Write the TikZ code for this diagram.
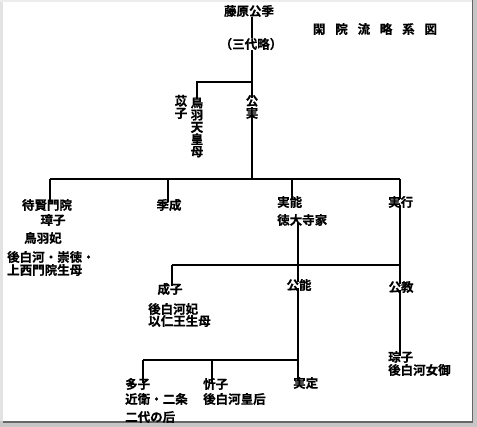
\documentclass[tikz,border=0pt]{standalone}
\usepackage{fontspec}
\setmainfont{Noto Sans CJK JP Bold}[FakeBold=0.5]
\begin{document}
\begin{tikzpicture}[x=1pt,y=-1pt,
  txt/.style={inner sep=0pt,font=\fontsize{12.5}{12.5}\selectfont},
  lt/.style={txt,anchor=west},
  vtxt/.style={txt,align=center,font=\fontsize{12.5}{12.2}\selectfont},
  ln/.style={line width=1.1pt,black}]
\useasboundingbox (0,0) rectangle (477,427);
% frame
\fill[white] (0,0) rectangle (477,427);
\fill[gray!22] (0,0) rectangle (3,427);
\fill[gray!15] (0,0) rectangle (477,2);
\fill[gray!45] (472,0) rectangle (477,427);
\fill[gray!45] (0,421) rectangle (477,427);
\fill[black!60] (471.5,0) rectangle (473,423);
\fill[black!60] (3,421.5) rectangle (473,423);
% title
\node[txt] (title) at (375,29) {閑\hspace{9.8pt}院\hspace{9.8pt}流\hspace{9.8pt}略\hspace{9.8pt}系\hspace{9.8pt}図};
% generation 0
\coordinate (trunk) at (252,0);
\node[txt] (kisue) at (249,11) {藤原公季};
\node[txt] (sandai) at (251,44) {（三代略）};
\draw[ln] (kisue.south -| trunk) -- (sandai.north -| trunk);
\coordinate (j1) at (252,82);
\draw[ln] (sandai.south -| trunk) -- (j1);
% generation 1
\node[vtxt] (ishi) at (181,107) {苡\\子};
\node[vtxt] (tobamo) at (197,127) {鳥\\羽\\天\\皇\\母};
\node[vtxt] (kinzane) at (252,107) {公\\実};
\draw[ln] (j1) -| ([yshift=-3pt]tobamo.north);
\draw[ln] (j1) -- ([yshift=-3pt]kinzane.north);
\coordinate (j2) at (252,179);
\draw[ln] ([yshift=3pt]kinzane.south) -- (j2);
% generation 2 bar
\coordinate (b1) at (50,179);
\coordinate (b2) at (168,179);
\coordinate (b3) at (292,179);
\coordinate (b4) at (400,179);
\draw[ln] (b1) -- (b4);
\node[txt] (taiken) at (47,205) {待賢門院};
\node[txt] (tamako) at (53,220) {璋子};
\node[txt] (tobahi) at (43,238) {鳥羽妃};
\node[lt] (gosh1) at (7,257) {後白河・崇徳・};
\node[lt] (gosh2) at (7,270) {上西門院生母};
\node[txt] (suenari) at (169,205) {季成};
\node[lt] (saneyoshi) at (277,202) {実能};
\node[lt] (tokudaiji) at (277,220) {徳大寺家};
\node[lt] (saneyuki) at (388,202) {実行};
\draw[ln] (b1) -- ([yshift=-3pt]b1 |- taiken.north);
\draw[ln] (b2) -- ([yshift=-3pt]b2 |- suenari.north);
\draw[ln] (b3) -- ([yshift=-3pt]b3 |- saneyoshi.north);
\draw[ln] (b4) -- ([yshift=-3pt]b4 |- saneyuki.north);
% generation 3
\node[txt] (shigeko) at (170,289) {成子};
\node[lt] (shig1) at (148,309) {後白河妃};
\node[lt] (shig2) at (148,321) {以仁王生母};
\node[txt] (kinyoshi) at (299,285) {公能};
\node[txt] (kinnori) at (401,287) {公教};
\coordinate (c1) at (172,265);
\coordinate (c2) at (298,265);
\coordinate (c3) at (400,265);
\draw[ln] (c1) -- (c3);
\draw[ln] ([yshift=3pt]c2 |- tokudaiji.south) -- ([yshift=-3pt]c2 |- kinyoshi.north);
\draw[ln] ([yshift=3pt]c3 |- saneyuki.south) -- ([yshift=-3pt]c3 |- kinnori.north);
\draw[ln] (c1) -- ([yshift=-3pt]c1 |- shigeko.north);
% generation 4
\node[lt] (soko) at (388,357) {琮子};
\node[lt] (soko2) at (388,370) {後白河女御};
\draw[ln] ([yshift=3pt]c3 |- kinnori.south) -- ([yshift=-5pt]c3 |- soko.north);
\coordinate (d1) at (143,360);
\coordinate (d2) at (212,360);
\coordinate (d3) at (298,360);
\node[lt] (masaruko) at (125,384) {多子};
\node[lt] (masa2) at (125,399) {近衛・二条};
\node[lt] (masa3) at (125,417) {二代の后};
\node[lt] (kinshi) at (203,384) {忻子};
\node[lt] (kinshi2) at (203,399) {後白河皇后};
\node[lt] (sanesada) at (293,383) {実定};
\draw[ln] ([yshift=3pt]d3 |- kinyoshi.south) -- ([yshift=-4pt]d3 |- sanesada.north);
\draw[ln] (d1) -- (d3);
\draw[ln] (d1) -- ([yshift=-5pt]d1 |- masaruko.north);
\draw[ln] (d2) -- ([yshift=-5pt]d2 |- kinshi.north);
\end{tikzpicture}
\end{document}
